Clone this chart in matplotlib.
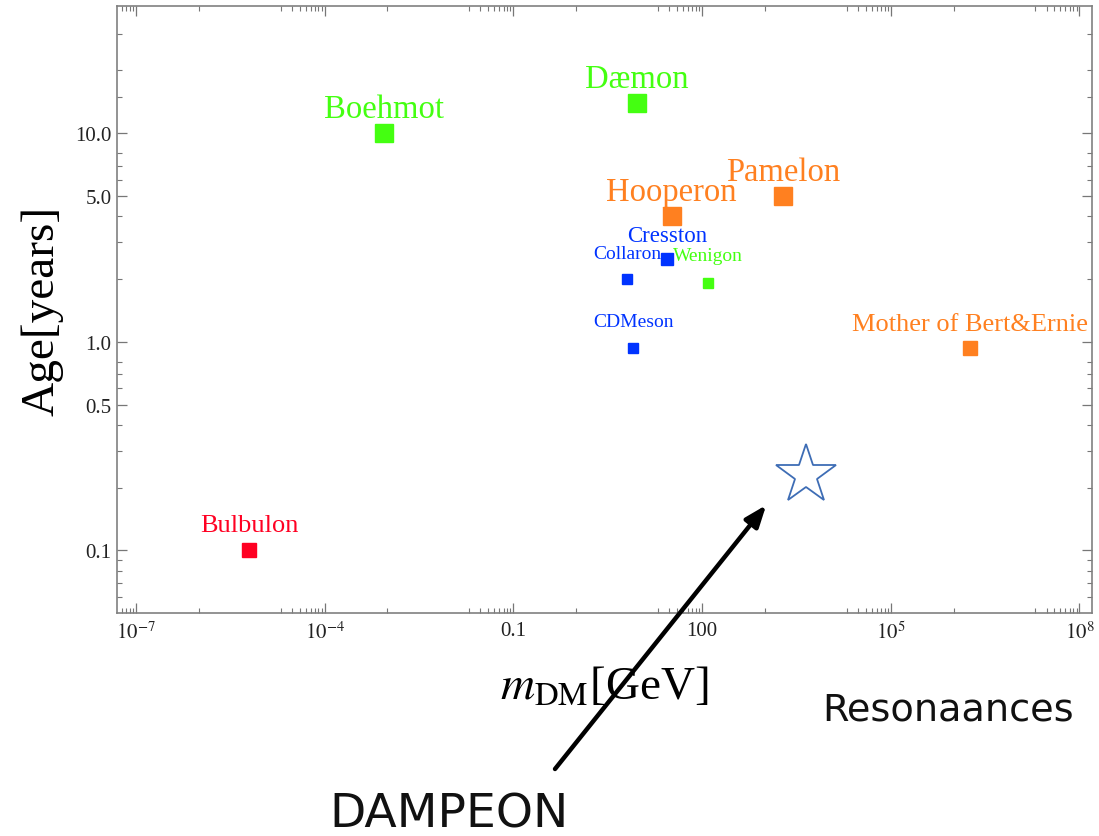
import matplotlib
matplotlib.use("Agg")
import matplotlib.pyplot as plt
import numpy as np
from matplotlib.ticker import FixedLocator, FixedFormatter, NullFormatter

plt.rcParams['mathtext.fontset'] = 'stix'
plt.rcParams['font.family'] = ['Liberation Serif', 'DejaVu Serif']

# ---- data ----
names = ["Boehmot", "Dæmon", "Hooperon", "Pamelon", "Cresston", "Collaron",
         "Wenigon", "CDMeson", "Mother of Bert&Ernie", "Bulbulon"]
mass = [8.8e-4, 9.1, 33, 1950, 28, 6.5, 125, 8.1, 1.85e6, 6.3e-6]
age = [10.0, 14.0, 4.0, 5.0, 2.5, 2.0, 1.92, 0.93, 0.93, 0.10]
colors = ["#44FF11", "#44FF11", "#FF8020", "#FF8020", "#0033FF", "#0033FF",
          "#44FF11", "#0033FF", "#FF8020", "#FF0022"]
star_mass, star_age = 4500, 0.23
arrow_tip_mass, arrow_tip_age = 1050, 0.165

# styles (marker size in points, label font size, label baseline offset in points)
msizes = [12.4, 12.4, 12.4, 12.8, 8.2, 7.0, 7.0, 7.0, 9.8, 10.2]
fsizes = [23.5, 23.5, 23.5, 23.5, 16.5, 14, 14, 14, 19, 19]
offsets = [11.5, 11.5, 11.5, 11.5, 13, 15, 16.5, 16, 13.3, 13.7]

fig = plt.figure(figsize=(10.99, 8.37), dpi=100)
ax = fig.add_axes([117/1099, 1-614/837, (1092-117)/1099, (614-7)/837])
ax.set_xscale('log')
ax.set_yscale('log')
ax.set_xlim(10**-7.3, 10**8.2)
ax.set_ylim(10**-1.30, 10**1.61)

for n, m, a, c, ms, fs, off in zip(names, mass, age, colors, msizes, fsizes, offsets):
    ax.plot(m, a, 's', color=c, ms=ms, mec=c, zorder=3)
    ax.annotate(n, (m, a), xytext=(0, off), textcoords='offset points',
                ha='center', va='baseline', color=c, fontsize=fs)

ax.plot(star_mass, star_age, '*', ms=45, mfc='none', mec='#3E6DB5', mew=1.3)

# ticks
majx = [1e-7, 1e-4, 1e-1, 1e2, 1e5, 1e8]
majx_lab = [r'$10^{-7}$', r'$10^{-4}$', '0.1', '100', r'$10^{5}$', r'$10^{8}$']
minx = []
for M in majx:
    minx.append(M / 100)
    minx += [j * M / 10 for j in range(2, 10)]
ax.xaxis.set_major_locator(FixedLocator(majx))
ax.xaxis.set_major_formatter(FixedFormatter(majx_lab))
ax.xaxis.set_minor_locator(FixedLocator(minx))
ax.xaxis.set_minor_formatter(NullFormatter())

majy = [0.1, 0.5, 1.0, 5.0, 10.0]
majy_lab = ['0.1', '0.5', '1.0', '5.0', '10.0']
miny = [0.06, 0.07, 0.08, 0.09, 0.2, 0.3, 0.4, 0.6, 0.7, 0.8, 2, 3, 4, 6, 7, 8, 15, 20, 30]
ax.yaxis.set_major_locator(FixedLocator(majy))
ax.yaxis.set_major_formatter(FixedFormatter(majy_lab))
ax.yaxis.set_minor_locator(FixedLocator(miny))
ax.yaxis.set_minor_formatter(NullFormatter())

ax.tick_params(which='both', direction='in', top=True, right=True,
               color='#777777', labelsize=15, labelcolor='#222222')
ax.tick_params(which='major', length=7, width=0.9)
ax.tick_params(axis='x', which='major', pad=6)
ax.tick_params(axis='y', which='major', pad=4)
ax.tick_params(which='minor', length=3.5, width=0.8)
for s in ax.spines.values():
    s.set_color('#808080')
    s.set_linewidth(1.2)

ax.set_xlabel(r'$m_{\mathrm{DM}}$[GeV]', fontsize=34, labelpad=16)
ax.set_ylabel('Age[years]', fontsize=34, labelpad=8.5)

fig.text(822/1099, 1-711/837, 'Resonaances', family='DejaVu Sans', fontsize=27.5,
         va='center', ha='left', color='#111111')
ax.annotate('', xy=(arrow_tip_mass, arrow_tip_age), xycoords='data',
            xytext=(555/1099, 1-770/837), textcoords='figure fraction',
            arrowprops=dict(arrowstyle='-|>,head_length=1.3,head_width=0.5',
                            color='black', lw=3.2, shrinkA=0, shrinkB=0),
            annotation_clip=False)
fig.text(449/1099, 1-815/837, 'DAMPEON', family='DejaVu Sans', fontsize=34,
         va='center', ha='center', color='#111111')

fig.savefig('out.png', dpi=100)
